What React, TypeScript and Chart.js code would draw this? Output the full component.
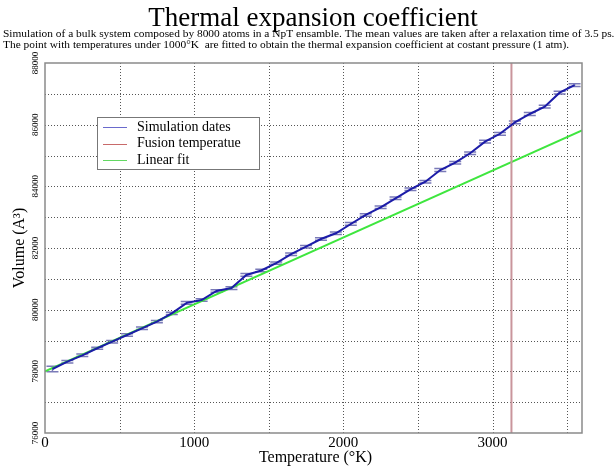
import React, { useEffect, useRef } from 'react';
import { Chart, registerables } from 'chart.js';

Chart.register(...registerables);

// ---- Data ----
const temperatures = [
  50, 150, 250, 350, 450, 550, 650, 750, 850, 950,
  1050, 1150, 1250, 1350, 1450, 1550, 1650, 1750, 1850, 1950,
  2050, 2150, 2250, 2350, 2450, 2550, 2650, 2750, 2850, 2950,
  3050, 3150, 3250, 3350, 3450, 3550,
];
const volumes = [
  78076, 78313, 78520, 78748, 78962, 79179, 79396, 79610, 79880, 80220,
  80314, 80605, 80700, 81125, 81270, 81510, 81800, 82043, 82292, 82477,
  82779, 83071, 83320, 83612, 83904, 84151, 84530, 84767, 85072, 85448,
  85705, 86075, 86346, 86583, 87037, 87280,
];
const volumeErrors = [
  90, 40, 40, 35, 40, 40, 40, 35, 40, 45,
  40, 40, 45, 45, 40, 40, 40, 40, 40, 40,
  45, 40, 40, 40, 40, 40, 45, 40, 40, 45,
  45, 45, 45, 45, 45, 45,
];
const fitTemperatures = [0, 3600];
const fitVolumes = [78000, 85812];
const fusionTemperature = 3127;

const xRange = [0, 3600];
const yRange = [76000, 88000];
const xGridStep = 500;
const xLabelStep = 1000;
const yGridStep = 1000;
const yLabelStep = 2000;

const titleText = 'Thermal expansion coefficient';
const subtitleLines = [
  'Simulation of a bulk system composed by 8000 atoms in a NpT ensamble. The mean values are taken after a relaxation time of 3.5 ps.',
  'The point with temperatures under 1000\u00B0K  are fitted to obtain the thermal expansion coefficient at costant pressure (1 atm).',
];
const xTitle = 'Temperature (\u00B0K)';
const yTitle = 'Volume (A\u00B3)';
const seriesLabels = ['Simulation dates', 'Fusion temperatue', 'Linear fit'];

const SERIF = '"Liberation Serif", "DejaVu Serif", serif';

const decorPlugin = {
  id: 'decor',
  beforeDatasetsDraw(chart: any) {
    const { ctx, chartArea: a, scales } = chart;
    const xs = scales.x, ys = scales.y;
    ctx.save();
    // dotted grid
    ctx.strokeStyle = '#555';
    ctx.lineWidth = 1;
    ctx.setLineDash([1, 2]);
    for (let v = xRange[0] + xGridStep; v < xRange[1]; v += xGridStep) {
      const px = Math.round(xs.getPixelForValue(v)) + 0.5;
      ctx.beginPath();
      ctx.moveTo(px, a.top);
      ctx.lineTo(px, a.bottom);
      ctx.stroke();
    }
    for (let v = yRange[0] + yGridStep; v < yRange[1]; v += yGridStep) {
      const py = Math.round(ys.getPixelForValue(v)) + 0.5;
      ctx.beginPath();
      ctx.moveTo(a.left, py);
      ctx.lineTo(a.right, py);
      ctx.stroke();
    }
    ctx.setLineDash([]);
    // error bars
    ctx.strokeStyle = '#7a7ab8';
    ctx.lineWidth = 1.5;
    temperatures.forEach((t, i) => {
      const px = xs.getPixelForValue(t);
      const yTop = ys.getPixelForValue(volumes[i] + volumeErrors[i]);
      const yBot = ys.getPixelForValue(volumes[i] - volumeErrors[i]);
      ctx.beginPath();
      ctx.moveTo(px, yTop);
      ctx.lineTo(px, yBot);
      ctx.moveTo(px - 6, yTop);
      ctx.lineTo(px + 6, yTop);
      ctx.moveTo(px - 6, yBot);
      ctx.lineTo(px + 6, yBot);
      ctx.stroke();
    });
    ctx.restore();
  },
  afterDraw(chart: any) {
    const { ctx, chartArea: a, scales } = chart;
    const xs = scales.x, ys = scales.y;
    ctx.save();
    // frame
    ctx.strokeStyle = '#8a8a8a';
    ctx.lineWidth = 1.5;
    ctx.strokeRect(a.left, a.top, a.right - a.left, a.bottom - a.top);

    ctx.fillStyle = '#000';
    // title
    ctx.font = `27px ${SERIF}`;
    ctx.textAlign = 'center';
    ctx.textBaseline = 'alphabetic';
    ctx.fillText(titleText, 313, 26);
    // subtitle
    ctx.font = `11.4px ${SERIF}`;
    ctx.textAlign = 'left';
    ctx.fillText(subtitleLines[0], 3, 37);
    ctx.fillText(subtitleLines[1], 3, 48);

    // x tick labels
    ctx.font = `15px ${SERIF}`;
    ctx.textAlign = 'center';
    ctx.textBaseline = 'top';
    for (let v = xRange[0]; v <= xRange[1]; v += xLabelStep) {
      ctx.fillText(String(v), xs.getPixelForValue(v), a.bottom + 3);
    }
    // x title
    ctx.font = `16px ${SERIF}`;
    ctx.textBaseline = 'alphabetic';
    ctx.fillText(xTitle, (a.left + a.right) / 2 + 2, 462);

    // y tick labels (rotated)
    ctx.font = `9px ${SERIF}`;
    for (let v = yRange[0]; v <= yRange[1]; v += yLabelStep) {
      const py = ys.getPixelForValue(v);
      ctx.save();
      ctx.translate(a.left - 5, py);
      ctx.rotate(-Math.PI / 2);
      ctx.textAlign = 'center';
      ctx.textBaseline = 'bottom';
      ctx.fillText(String(v), 0, 0);
      ctx.restore();
    }
    // y title
    ctx.save();
    ctx.font = `16px ${SERIF}`;
    ctx.translate(24, (a.top + a.bottom) / 2);
    ctx.rotate(-Math.PI / 2);
    ctx.textAlign = 'center';
    ctx.textBaseline = 'alphabetic';
    ctx.fillText(yTitle, 0, 0);
    ctx.restore();

    // legend
    const lx = a.left + 52, ly = a.top + 54, lw = 162, lh = 52;
    ctx.fillStyle = '#fff';
    ctx.fillRect(lx, ly, lw, lh);
    ctx.strokeStyle = '#777';
    ctx.lineWidth = 1;
    ctx.strokeRect(lx + 0.5, ly + 0.5, lw, lh);
    const colors = ['#6a6acc', '#c86a6a', '#62d862'];
    ctx.font = `14px ${SERIF}`;
    ctx.textAlign = 'left';
    ctx.textBaseline = 'middle';
    seriesLabels.forEach((lab, i) => {
      const cy = ly + 10 + i * 16.5;
      ctx.strokeStyle = colors[i];
      ctx.beginPath();
      ctx.moveTo(lx + 6, Math.round(cy) + 0.5);
      ctx.lineTo(lx + 30, Math.round(cy) + 0.5);
      ctx.stroke();
      ctx.fillStyle = '#000';
      ctx.fillText(lab, lx + 40, cy);
    });
    ctx.restore();
  },
};

export default function App() {
  const ref = useRef<HTMLCanvasElement | null>(null);
  useEffect(() => {
    if (!ref.current) return;
    const chart = new Chart(ref.current, {
      type: 'scatter',
      data: {
        datasets: [
          {
            label: seriesLabels[0],
            data: temperatures.map((t, i) => ({ x: t, y: volumes[i] })),
            showLine: true,
            borderColor: '#1c1ca8',
            borderWidth: 2,
            pointRadius: 0,
            tension: 0,
          },
          {
            label: seriesLabels[1],
            data: [
              { x: fusionTemperature, y: yRange[0] },
              { x: fusionTemperature, y: yRange[1] },
            ],
            showLine: true,
            borderColor: '#c9959c',
            borderWidth: 2,
            pointRadius: 0,
          },
          {
            label: seriesLabels[2],
            data: fitTemperatures.map((t, i) => ({ x: t, y: fitVolumes[i] })),
            showLine: true,
            borderColor: '#3ee63e',
            borderWidth: 2,
            pointRadius: 0,
          },
        ],
      },
      options: {
        responsive: false,
        animation: false,
        devicePixelRatio: 1,
        layout: { padding: { left: 0, right: 34, top: 63, bottom: 0 } },
        plugins: {
          legend: { display: false },
          title: { display: false },
          tooltip: { enabled: false },
        },
        scales: {
          x: {
            type: 'linear',
            min: xRange[0],
            max: xRange[1],
            ticks: { display: false, stepSize: xGridStep },
            grid: { display: false },
            border: { display: false },
            afterFit: (s: any) => { s.height = 34; },
          },
          y: {
            type: 'linear',
            min: yRange[0],
            max: yRange[1],
            ticks: { display: false, stepSize: yGridStep },
            grid: { display: false },
            border: { display: false },
            afterFit: (s: any) => { s.width = 45; },
          },
        },
      },
      plugins: [decorPlugin],
    });
    return () => chart.destroy();
  }, []);
  return (
    <div style={{ position: 'fixed', left: 0, top: 0, width: 616, height: 467, background: '#fff' }}>
      <canvas ref={ref} width={616} height={467} style={{ display: 'block', width: 616, height: 467 }} />
    </div>
  );
}
